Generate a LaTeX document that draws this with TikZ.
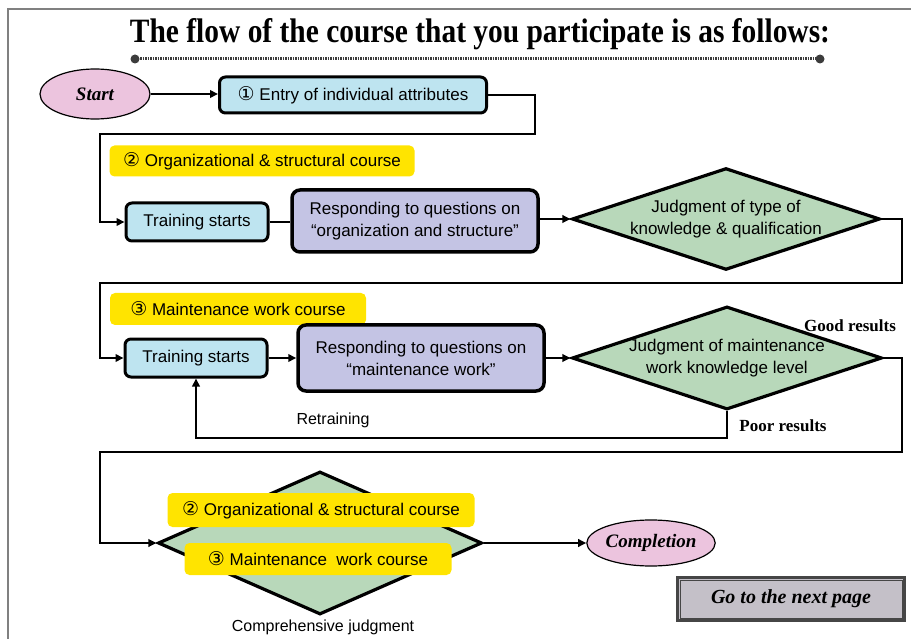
\documentclass[tikz,border=0pt]{standalone}
\usepackage{fontspec}
\setmainfont{Liberation Serif}
\setsansfont{Liberation Sans}
\newfontfamily\circf{DejaVu Sans}
\usetikzlibrary{shapes.geometric,arrows.meta}
\definecolor{pinkfill}{RGB}{236,196,222}
\definecolor{lblue}{RGB}{190,228,240}
\definecolor{lavender}{RGB}{196,196,228}
\definecolor{lgreen}{RGB}{184,216,186}
\definecolor{yel}{RGB}{255,228,0}
\definecolor{btngray}{RGB}{196,192,200}
\definecolor{btnedge}{RGB}{70,70,70}
\definecolor{framegray}{RGB}{128,128,128}
\definecolor{dotgray}{RGB}{60,60,60}
\newcommand{\cnum}[1]{{\circf\fontsize{19}{20}\selectfont #1}}
\begin{document}
\begin{tikzpicture}[x=1pt,y=-1pt,
  sansf/.style={font=\sffamily\fontsize{17}{22}\selectfont},
  conn/.style={line width=2.6pt,-{Triangle[length=8pt,width=7.5pt]}},
  plainline/.style={line width=2.6pt},
  bluebox/.style={draw,line width=3pt,rounded corners=6pt,fill=lblue,sansf,inner sep=0pt,align=center},
  lavbox/.style={draw,line width=3.5pt,rounded corners=8pt,fill=lavender,sansf,inner sep=0pt,align=center},
  decision/.style={draw,diamond,aspect=3,line width=3.2pt,fill=lgreen,sansf,inner sep=0pt,align=center},
  yelbox/.style={fill=yel,rounded corners=5pt,sansf,inner sep=0pt},
  oval/.style={draw,ellipse,line width=1.2pt,fill=pinkfill,inner sep=0pt,font=\bfseries\itshape\fontsize{19}{22}\selectfont},
  serifb/.style={font=\bfseries\fontsize{17}{20}\selectfont},
  plaintext/.style={font=\sffamily\fontsize{16}{20}\selectfont,inner sep=0pt}
]
\useasboundingbox (0,0) rectangle (911,639);
% frame
\draw[framegray,line width=2pt] (8,639) -- (8,9) -- (911,9);
% title
\node[anchor=base,inner sep=0pt] (title) at (480,43)
  {\resizebox{700pt}{24pt}{\bfseries The flow of the course that you participate is as follows:}};
\coordinate (dl) at (135,59);
\coordinate (dr) at (820,59);
\draw[dotgray,line width=3pt,dash pattern=on 1.5pt off 1pt] (dl) -- (dr);
\fill[dotgray] (dl) circle (4.5pt);
\fill[dotgray] (dr) circle (4.5pt);

% row 0
\node[oval,minimum width=110pt,minimum height=50pt] (start) at (95,94) {Start};
\node[bluebox,minimum width=267pt,minimum height=36pt] (entry) at (353,95) {\cnum{①} Entry of individual attributes};

% row 1
\node[yelbox,minimum width=305pt,minimum height=31pt] (y1) at (262,161) {\cnum{②} Organizational \& structural course};
\node[bluebox,minimum width=142pt,minimum height=38pt] (t1) at (197,222) {Training starts};
\node[lavbox,minimum width=246pt,minimum height=62pt] (r1) at (415,221) {Responding to questions on\\“organization and structure”};
\node[decision,minimum width=308pt,minimum height=101pt] (d1) at (726,219) {Judgment of type of\\knowledge \& qualification};

% row 2
\node[yelbox,minimum width=256pt,minimum height=32pt] (y2) at (238,309) {\cnum{③} Maintenance work course};
\node[bluebox,minimum width=142pt,minimum height=38pt] (t2) at (196,358) {Training starts};
\node[lavbox,minimum width=246pt,minimum height=66pt] (r2) at (421,358) {Responding to questions on\\“maintenance work”};
\node[decision,minimum width=310pt,minimum height=101pt] (d2) at (727,358) {Judgment of maintenance\\work knowledge level};
\node[serifb,inner sep=0pt] (good) at (850,326) {Good results};
\node[serifb,inner sep=0pt] (poor) at (783,426) {Poor results};
\node[plaintext] (retr) at (333,420) {Retraining};

% row 3
\node[decision,minimum width=324pt,minimum height=143pt] (d3) at (320,543) {};
\node[yelbox,minimum width=307pt,minimum height=34pt] (y3a) at (321,510) {\cnum{②} Organizational \& structural course};
\node[yelbox,minimum width=267pt,minimum height=32pt] (y3b) at (318,559) {\cnum{③} Maintenance\ \ work course};
\node[plaintext] (comp) at (323,627) {Comprehensive judgment};
\node[oval,minimum width=110pt,minimum height=46pt] (done) at (651,543) {Completion};

% next page button
\node[draw=btnedge,line width=3pt,fill=btngray,minimum width=227pt,minimum height=43pt,inner sep=0pt,
      font=\bfseries\itshape\fontsize{20}{24}\selectfont] (next) at (791,599) {Go to the next page};
\draw[btnedge,line width=1pt] ([shift={(4,4)}]next.north west) rectangle ([shift={(-4,-4)}]next.south east);

% connectors
\draw[conn] (start.east) -- (start.east -| entry.west);
\draw[conn] (entry.east) -| (535,134) -| (100,222) -- (t1.west);
\draw[plainline] (t1.east) -- (t1.east -| r1.west);
\draw[conn] (r1.east |- d1.west) -- (d1.west);
\draw[conn] (d1.east) -| (902,283) -| (100,358) -- (t2.west);
\draw[conn] (t2) -- (r2);
\draw[conn] (r2) -- (d2);
\draw[conn] (d2.south) -- ++(0,27) -| (t2.south);
\draw[conn] (d2.east) -| (902,452) -| (100,543) -- (d3.west);
\draw[conn] (d3.east) -- (done.west);
\end{tikzpicture}
\end{document}
